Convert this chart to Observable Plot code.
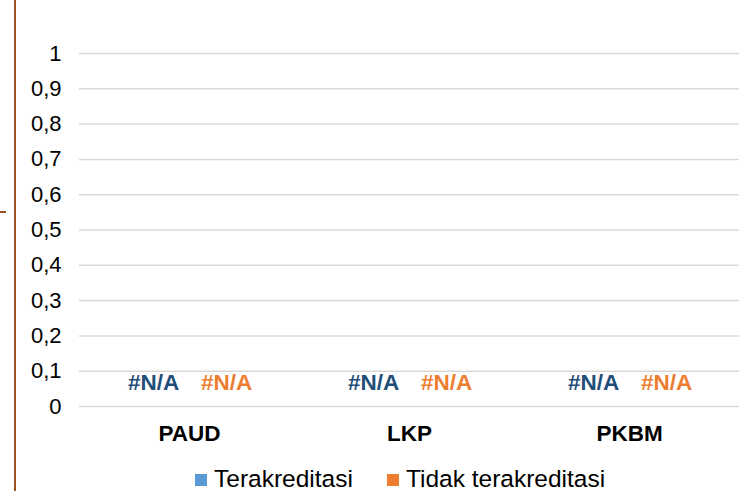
<!DOCTYPE html>
<html>
<head>
<meta charset="utf-8">
<script src="https://cdn.jsdelivr.net/npm/d3@7"></script>
<script src="https://cdn.jsdelivr.net/npm/@observablehq/plot@0.6"></script>
<style>
  html, body { margin: 0; padding: 0; background: #fff; }
  body { width: 742px; height: 491px; position: relative; overflow: hidden; font-family: "Liberation Sans", Arial, sans-serif; }
  #chart { position: absolute; left: 0; top: 0; }
  .vline { position: absolute; left: 14px; top: 0; width: 2px; height: 491px; background: #9E5220; }
  .hmark { position: absolute; left: 0; top: 211px; width: 6px; height: 2px; background: #9E5220; }
  #legend { position: absolute; top: 465px; left: 195px; display: flex; gap: 34px; font-size: 24.5px; line-height: 28px; color: #000; white-space: nowrap; }
  #legend span.item { display: flex; align-items: center; }
  #legend span.sw { display: inline-block; width: 12px; height: 12px; margin-right: 7px; position: relative; top: 1px; }
</style>
</head>
<body>
<div id="chart"></div>
<div class="vline"></div>
<div class="hmark"></div>
<div id="legend"></div>
<script>
const categories = ["PAUD", "LKP", "PKBM"];
const series = ["Terakreditasi", "Tidak terakreditasi"];
const seriesColors = ["#5B9BD5", "#ED7D31"];
const labelColors = ["#1F4E79", "#ED7D31"];
const values = [[0, 0], [0, 0], [0, 0]]; // #N/A shown at zero
const labelText = "#N/A";
const yTicks = [0, 0.1, 0.2, 0.3, 0.4, 0.5, 0.6, 0.7, 0.8, 0.9, 1];

const data = [];
categories.forEach((c, i) => series.forEach((s, j) => data.push({category: c, series: s, value: values[i][j]})));

const chart = Plot.plot({
  width: 742,
  height: 450,
  marginLeft: 78,
  marginRight: 2,
  marginTop: 53,
  marginBottom: 44,
  style: {fontFamily: "Liberation Sans, Arial, sans-serif", fontSize: "21px", color: "#000", background: "transparent"},
  fx: {domain: categories, padding: 0, label: null, axis: null},
  x: {type: "point", domain: series, padding: 0.99, axis: null},
  y: {domain: [0, 1], label: null, axis: null},
  color: {domain: series, range: labelColors},
  marks: [
    Plot.gridY(yTicks, {stroke: "#d9d9d9", strokeOpacity: 1, strokeWidth: 1.5}),
    Plot.axisY(yTicks, {tickSize: 0, tickPadding: 18, label: null, fontSize: 22, tickFormat: d => String(d).replace(".", ",")}),
    Plot.text(data, {fx: "category", x: "series", y: "value", text: () => labelText, fill: "series", dy: -23.5, fontWeight: "bold", fontSize: 22.5}),
    Plot.axisFx({anchor: "bottom", tickSize: 0, tickPadding: 19, fontWeight: "bold", fontSize: 22.5, label: null})
  ]
});
document.getElementById("chart").appendChild(chart);

const legend = document.getElementById("legend");
series.forEach((s, i) => {
  const item = document.createElement("span");
  item.className = "item";
  const sw = document.createElement("span");
  sw.className = "sw";
  sw.style.background = seriesColors[i];
  item.appendChild(sw);
  item.appendChild(document.createTextNode(s));
  legend.appendChild(item);
});
</script>
</body>
</html>
